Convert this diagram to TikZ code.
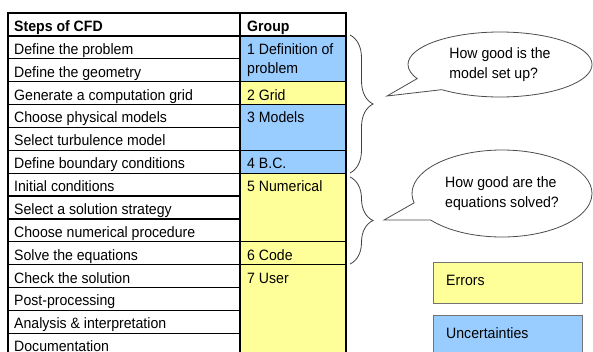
\documentclass[tikz,border=0pt]{standalone}
\usepackage{fontspec}
\setmainfont{Liberation Sans}[FakeStretch=0.94]
\usetikzlibrary{shapes.callouts,decorations.pathreplacing}
\definecolor{cblue}{HTML}{99CCFF}
\definecolor{cyel}{HTML}{FFFF99}
\begin{document}
\begin{tikzpicture}[x=1pt,y=-1pt,
  txt/.style={anchor=base west,inner sep=0pt,font=\fontsize{15}{18.5}\selectfont},
  gridline/.style={draw=black,line width=1.2pt},
  bracestyle/.style={draw=black!75,line width=0.8pt,decorate,decoration={brace,amplitude=23pt}},
  bubble/.style={ellipse callout,draw=black!70,line width=0.8pt,fill=white,inner sep=0pt,
    callout pointer arc=25,align=left,font=\fontsize{15}{19.5}\selectfont},
  legend/.style={draw=black!55,line width=0.8pt,anchor=north west,minimum width=149pt,inner sep=0pt}]
\useasboundingbox (0,0) rectangle (593,351);
\clip (0,0) rectangle (593,351);
% group column fills
\fill[cblue] (240,36) rectangle (346,81.74);
\fill[cyel] (240,81.74) rectangle (346,104.61);
\fill[cblue] (240,104.61) rectangle (346,173.22);
\fill[cyel] (240,173.22) rectangle (346,360);
% header
\draw[gridline] (8,13) rectangle (240,36);
\draw[gridline] (240,13) rectangle (346,36);
\node[txt,font=\fontsize{15}{18.5}\selectfont\bfseries] (h1) at (14,31) {Steps of CFD};
\node[txt,font=\fontsize{15}{18.5}\selectfont\bfseries] (h2) at (247,31) {Group};
% left column rows
\foreach \t [count=\i from 0] in {Define the problem,Define the geometry,Generate a computation grid,Choose physical models,Select turbulence model,Define boundary conditions,Initial conditions,Select a solution strategy,Choose numerical procedure,Solve the equations,Check the solution,Post-processing,Analysis \& interpretation,Documentation}{
  \draw[gridline] (8,{36+\i*22.87}) rectangle (240,{36+(\i+1)*22.87});
  \node[txt] (s\i) at (14,{36+\i*22.87+18.3}) {\t};
}
% group cells
\draw[gridline] (240,36) rectangle (346,81.74);
\draw[gridline] (240,81.74) rectangle (346,104.61);
\draw[gridline] (240,104.61) rectangle (346,150.35);
\draw[gridline] (240,150.35) rectangle (346,173.22);
\draw[gridline] (240,173.22) rectangle (346,241.83);
\draw[gridline] (240,241.83) rectangle (346,264.70);
\draw[gridline] (240,264.70) rectangle (346,360);
\node[txt] (g1) at (247,54.3) {1 Definition of};
\node[txt] (g1b) at (247,73.5) {problem};
\node[txt] (g2) at (247,100) {2 Grid};
\node[txt] (g3) at (247,122.9) {3 Models};
\node[txt] (g4) at (247,168.6) {4 B.C.};
\node[txt] (g5) at (247,191.5) {5 Numerical};
\node[txt] (g6) at (247,260.1) {6 Code};
\node[txt] (g7) at (247,283) {7 User};
% braces
\draw[bracestyle] (350,35) -- (350,173);
\draw[bracestyle] (350,177) -- (350,264);
% callouts
\node[bubble,minimum width=184pt,minimum height=65pt,callout absolute pointer={(387,96)}] (c1) at (500,64.5) {How good is the\\model set up?};
\node[bubble,minimum width=180pt,minimum height=87pt,callout absolute pointer={(384,220)}] (c2) at (502,193.5) {How good are the\\equations solved?};
% legend
\node[legend,fill=cyel,minimum height=41pt] (err) at (433,262) {};
\node[txt] (errt) at (446,285.5) {Errors};
\node[legend,fill=cblue,minimum height=45pt] (unc) at (433,315) {};
\node[txt] (unct) at (446,338.5) {Uncertainties};
\end{tikzpicture}
\end{document}
